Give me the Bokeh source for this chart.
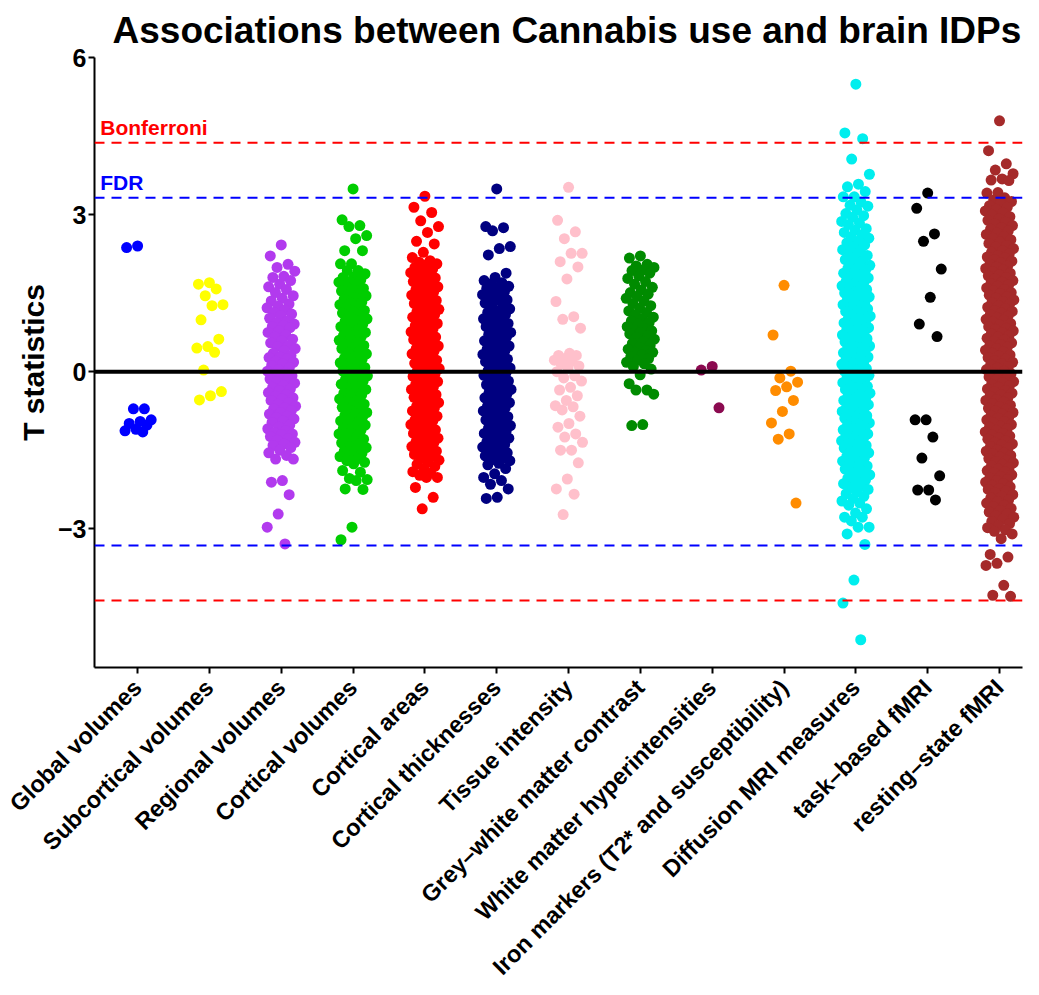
import numpy as np
from bokeh.plotting import figure
from bokeh.models import Span, Label, FixedTicker
from bokeh.embed import file_html
from bokeh.resources import INLINE

# ---------------- data ----------------
title_text = "Associations between Cannabis use and brain IDPs"

categories = ["Global volumes", "Subcortical volumes", "Regional volumes",
              "Cortical volumes", "Cortical areas", "Cortical thicknesses",
              "Tissue intensity", "Grey\u2013white matter contrast",
              "White matter hyperintensities",
              "Iron markers (T2* and susceptibility)", "Diffusion MRI measures",
              "task\u2013based fMRI", "resting\u2013state fMRI"]

colors = ["#0000FF", "#FFFF00", "#B23AEE", "#00CD00", "#FF0000", "#000080",
          "#FFC0CB", "#008B00", "#8B0A50", "#FF8C00", "#00EEEE", "#000000",
          "#A52A2A"]

y_ticks = [-3, 0, 3, 6]
y_tick_labels = ["\u22123", "0", "3", "6"]

fdr_threshold = 3.32
bonferroni_threshold = 4.37

global_volumes = [2.40, 2.37, -0.71, -0.71, -0.92, -0.95, -0.99, -1.02, -1.10, -1.13, -1.15]

subcortical_volumes = [1.70, 1.67, 1.58, 1.45, 1.28, 1.26, 0.99, 0.62, 0.48, 0.45,
                       0.37, 0.03, -0.38, -0.46, -0.54]

regional_volumes = [2.42, 2.21, 2.05, 1.99, 1.92, 1.82, 1.80, 1.74, 1.67, 1.62, 1.57,
                    1.51, 1.45, 1.40, 1.35, 1.29, 1.25, 1.22, 1.18, 1.13, 1.10, 1.07,
                    1.02, 0.97, 0.93, 0.91, 0.88, 0.86, 0.84, 0.78, 0.75, 0.70, 0.66,
                    0.62, 0.59, 0.55, 0.50, 0.48, 0.44, 0.40, 0.35, 0.31, 0.28, 0.27,
                    0.24, 0.20, 0.18, 0.15, 0.12, 0.08, 0.04, 0.01, -0.02, -0.04,
                    -0.08, -0.11, -0.14, -0.14, -0.19, -0.22, -0.26, -0.30, -0.33,
                    -0.36, -0.40, -0.44, -0.47, -0.50, -0.52, -0.55, -0.59, -0.62,
                    -0.66, -0.69, -0.71, -0.74, -0.78, -0.81, -0.85, -0.88, -0.90,
                    -0.94, -0.97, -1.02, -1.06, -1.09, -1.13, -1.16, -1.19, -1.20,
                    -1.24, -1.28, -1.31, -1.35, -1.38, -1.41, -1.45, -1.50, -1.55,
                    -1.60, -1.67, -1.67, -2.08, -2.11, -2.35, -2.72, -2.97, -3.29]

cortical_volumes = [3.49, 2.90, 2.79, 2.77, 2.60, 2.54, 2.31, 2.31, 2.06, 2.06, 1.93,
                    1.93, 1.87, 1.82, 1.80, 1.76, 1.72, 1.71, 1.66, 1.64, 1.59, 1.57,
                    1.54, 1.49, 1.47, 1.45, 1.40, 1.38, 1.33, 1.31, 1.28, 1.23, 1.22,
                    1.17, 1.14, 1.12, 1.06, 1.05, 1.01, 0.97, 0.96, 0.91, 0.88, 0.86,
                    0.80, 0.78, 0.75, 0.71, 0.69, 0.67, 0.61, 0.60, 0.55, 0.52, 0.50,
                    0.46, 0.44, 0.39, 0.36, 0.34, 0.29, 0.26, 0.24, 0.19, 0.17, 0.15,
                    0.10, 0.08, 0.03, 0.01, -0.02, -0.06, -0.08, -0.13, -0.15, -0.18,
                    -0.22, -0.24, -0.29, -0.31, -0.34, -0.39, -0.41, -0.45, -0.47,
                    -0.52, -0.55, -0.57, -0.62, -0.65, -0.68, -0.71, -0.73, -0.78,
                    -0.80, -0.84, -0.86, -0.89, -0.94, -0.96, -1.00, -1.02, -1.07,
                    -1.09, -1.12, -1.17, -1.19, -1.23, -1.25, -1.29, -1.34, -1.36,
                    -1.38, -1.43, -1.45, -1.50, -1.52, -1.56, -1.60, -1.62, -1.66,
                    -1.70, -1.73, -1.76, -1.89, -1.92, -2.04, -2.06, -2.08, -2.24,
                    -2.25, -2.97, -3.21]

cortical_areas = [3.35, 3.14, 3.04, 2.88, 2.77, 2.66, 2.49, 2.44, 2.28, 2.18, 2.12,
                  2.09, 2.06, 2.04, 1.99, 1.96, 1.94, 1.89, 1.87, 1.83, 1.79, 1.78,
                  1.72, 1.70, 1.68, 1.62, 1.61, 1.56, 1.52, 1.51, 1.46, 1.44, 1.41,
                  1.36, 1.34, 1.30, 1.26, 1.24, 1.19, 1.18, 1.14, 1.09, 1.08, 1.04,
                  0.99, 0.98, 0.92, 0.90, 0.88, 0.82, 0.81, 0.76, 0.72, 0.71, 0.66,
                  0.64, 0.61, 0.56, 0.54, 0.49, 0.46, 0.44, 0.39, 0.37, 0.34, 0.29,
                  0.27, 0.22, 0.21, 0.16, 0.12, 0.11, 0.06, 0.04, 0.01, -0.04, -0.05,
                  -0.09, -0.14, -0.15, -0.19, -0.23, -0.25, -0.29, -0.32, -0.34,
                  -0.38, -0.41, -0.44, -0.48, -0.49, -0.54, -0.58, -0.59, -0.64,
                  -0.66, -0.69, -0.74, -0.75, -0.80, -0.82, -0.85, -0.89, -0.92,
                  -0.94, -0.99, -1.01, -1.04, -1.08, -1.11, -1.14, -1.18, -1.19,
                  -1.24, -1.27, -1.29, -1.34, -1.36, -1.39, -1.43, -1.46, -1.49,
                  -1.52, -1.56, -1.58, -1.62, -1.66, -1.69, -1.73, -1.77, -1.81,
                  -1.85, -1.91, -1.94, -1.98, -2.02, -2.02, -2.21, -2.40, -2.62]

cortical_thicknesses = [3.49, 2.77, 2.75, 2.69, 2.39, 2.35, 2.23, 1.88, 1.80, 1.74,
                        1.70, 1.68, 1.63, 1.61, 1.59, 1.53, 1.51, 1.47, 1.44, 1.42,
                        1.37, 1.36, 1.31, 1.26, 1.24, 1.20, 1.16, 1.13, 1.09, 1.07,
                        1.01, 0.99, 0.97, 0.92, 0.88, 0.86, 0.82, 0.81, 0.75, 0.72,
                        0.71, 0.66, 0.64, 0.59, 0.56, 0.55, 0.49, 0.48, 0.43, 0.40,
                        0.38, 0.33, 0.31, 0.28, 0.24, 0.20, 0.19, 0.14, 0.12, 0.07,
                        0.05, 0.02, -0.03, -0.05, -0.07, -0.12, -0.14, -0.18, -0.21,
                        -0.25, -0.28, -0.30, -0.34, -0.38, -0.40, -0.43, -0.47, -0.50,
                        -0.53, -0.56, -0.59, -0.64, -0.66, -0.69, -0.73, -0.75, -0.81,
                        -0.82, -0.86, -0.90, -0.92, -0.97, -0.98, -1.03, -1.06, -1.08,
                        -1.13, -1.16, -1.18, -1.23, -1.25, -1.27, -1.32, -1.34, -1.39,
                        -1.42, -1.44, -1.49, -1.51, -1.55, -1.58, -1.61, -1.65, -1.68,
                        -1.70, -1.75, -1.78, -1.85, -1.95, -2.02, -2.08, -2.15, -2.24,
                        -2.40, -2.42]

tissue_intensity = [3.52, 2.89, 2.67, 2.54, 2.26, 2.26, 2.10, 2.00, 1.77, 1.34, 1.05,
                    1.00, 0.83, 0.35, 0.31, 0.31, 0.25, 0.22, 0.20, 0.15, 0.11, 0.07,
                    0.00, -0.08, -0.12, -0.18, -0.30, -0.35, -0.46, -0.55, -0.65,
                    -0.67, -0.73, -0.85, -0.99, -1.06, -1.19, -1.25, -1.35, -1.50,
                    -1.50, -1.74, -2.05, -2.24, -2.34, -2.73]

grey_white_contrast = [2.21, 2.17, 2.05, 2.02, 1.99, 1.94, 1.93, 1.88, 1.83, 1.78,
                       1.72, 1.67, 1.61, 1.56, 1.51, 1.48, 1.44, 1.40, 1.35, 1.30,
                       1.26, 1.21, 1.16, 1.13, 1.09, 1.04, 1.01, 0.97, 0.94, 0.91,
                       0.86, 0.82, 0.80, 0.78, 0.75, 0.72, 0.68, 0.65, 0.62, 0.58,
                       0.54, 0.50, 0.46, 0.43, 0.40, 0.37, 0.37, 0.32, 0.28, 0.25,
                       0.22, 0.18, 0.15, 0.10, 0.05, -0.06, -0.23, -0.35, -0.35,
                       -0.43, -1.01, -1.03]

wm_hyperintensities = [0.10, 0.03, -0.69]

iron_markers = [1.65, 0.70, 0.01, -0.12, -0.20, -0.29, -0.36, -0.55, -0.76, -0.98,
                -1.19, -1.29, -2.51]

diffusion_mri = [5.49, 4.56, 4.45, 4.06, 3.77, 3.58, 3.53, 3.44, 3.34, 3.34, 3.24,
                 3.18, 3.16, 3.09, 3.02, 2.98, 2.95, 2.87, 2.84, 2.81, 2.73, 2.70,
                 2.66, 2.61, 2.57, 2.55, 2.49, 2.46, 2.42, 2.38, 2.33, 2.31, 2.27,
                 2.22, 2.19, 2.14, 2.12, 2.08, 2.03, 2.01, 1.97, 1.94, 1.90, 1.88,
                 1.85, 1.81, 1.79, 1.76, 1.73, 1.71, 1.67, 1.64, 1.62, 1.59, 1.57,
                 1.53, 1.50, 1.48, 1.45, 1.43, 1.39, 1.36, 1.34, 1.31, 1.28, 1.26,
                 1.22, 1.20, 1.17, 1.15, 1.12, 1.08, 1.06, 1.03, 1.01, 0.98, 0.95,
                 0.93, 0.89, 0.87, 0.84, 0.82, 0.79, 0.76, 0.74, 0.70, 0.68, 0.65,
                 0.63, 0.60, 0.57, 0.55, 0.51, 0.49, 0.46, 0.44, 0.41, 0.38, 0.36,
                 0.33, 0.30, 0.28, 0.25, 0.23, 0.19, 0.17, 0.14, 0.12, 0.09, 0.06,
                 0.04, 0.01, -0.02, -0.04, -0.07, -0.10, -0.12, -0.15, -0.17, -0.21,
                 -0.23, -0.26, -0.28, -0.31, -0.34, -0.36, -0.39, -0.41, -0.45,
                 -0.47, -0.50, -0.52, -0.55, -0.58, -0.60, -0.63, -0.65, -0.69,
                 -0.71, -0.74, -0.76, -0.79, -0.82, -0.84, -0.87, -0.89, -0.93,
                 -0.95, -0.98, -1.00, -1.03, -1.06, -1.08, -1.11, -1.13, -1.17,
                 -1.19, -1.22, -1.24, -1.27, -1.30, -1.32, -1.35, -1.37, -1.41,
                 -1.43, -1.46, -1.48, -1.52, -1.55, -1.58, -1.62, -1.64, -1.68,
                 -1.71, -1.73, -1.77, -1.80, -1.84, -1.86, -1.90, -1.93, -1.97,
                 -2.00, -2.04, -2.07, -2.11, -2.14, -2.18, -2.22, -2.25, -2.30,
                 -2.33, -2.38, -2.42, -2.47, -2.51, -2.55, -2.62, -2.70, -2.78,
                 -2.78, -2.85, -2.97, -2.97, -3.10, -3.30, -3.98, -4.42, -5.12]

task_fmri = [3.41, 3.12, 2.63, 2.49, 1.96, 1.42, 0.91, 0.67, -0.92, -0.92, -1.25,
             -1.65, -1.99, -2.26, -2.26, -2.45]

resting_fmri = [4.79, 4.22, 3.97, 3.85, 3.78, 3.68, 3.66, 3.65, 3.42, 3.41, 3.32,
                3.28, 3.25, 3.21, 3.17, 3.14, 3.10, 3.07, 3.03, 2.99, 2.96, 2.92,
                2.89, 2.86, 2.82, 2.79, 2.75, 2.72, 2.69, 2.65, 2.62, 2.58, 2.55,
                2.52, 2.48, 2.45, 2.41, 2.38, 2.35, 2.31, 2.28, 2.25, 2.22, 2.19,
                2.17, 2.14, 2.11, 2.08, 2.05, 2.02, 2.00, 1.97, 1.94, 1.91, 1.88,
                1.85, 1.83, 1.80, 1.77, 1.74, 1.71, 1.68, 1.66, 1.63, 1.60, 1.57,
                1.54, 1.51, 1.49, 1.46, 1.43, 1.40, 1.37, 1.34, 1.32, 1.29, 1.26,
                1.23, 1.20, 1.17, 1.15, 1.12, 1.09, 1.06, 1.03, 1.00, 0.98, 0.95,
                0.92, 0.89, 0.86, 0.83, 0.81, 0.78, 0.75, 0.72, 0.69, 0.66, 0.64,
                0.61, 0.58, 0.55, 0.52, 0.49, 0.47, 0.44, 0.41, 0.38, 0.35, 0.32,
                0.30, 0.27, 0.24, 0.21, 0.18, 0.15, 0.13, 0.10, 0.07, 0.04, 0.01,
                -0.02, -0.04, -0.07, -0.10, -0.13, -0.16, -0.19, -0.21, -0.24,
                -0.27, -0.30, -0.33, -0.36, -0.38, -0.41, -0.44, -0.47, -0.50,
                -0.53, -0.55, -0.58, -0.61, -0.64, -0.67, -0.70, -0.72, -0.75,
                -0.78, -0.81, -0.84, -0.87, -0.89, -0.92, -0.95, -0.98, -1.01,
                -1.04, -1.06, -1.09, -1.12, -1.15, -1.18, -1.21, -1.23, -1.26,
                -1.29, -1.32, -1.35, -1.38, -1.40, -1.43, -1.46, -1.49, -1.52,
                -1.55, -1.57, -1.60, -1.63, -1.66, -1.69, -1.72, -1.74, -1.77,
                -1.80, -1.83, -1.86, -1.89, -1.91, -1.94, -1.97, -2.00, -2.03,
                -2.06, -2.08, -2.11, -2.14, -2.17, -2.20, -2.23, -2.25, -2.28,
                -2.31, -2.35, -2.38, -2.41, -2.45, -2.48, -2.51, -2.55, -2.58,
                -2.61, -2.65, -2.68, -2.72, -2.75, -2.78, -2.82, -2.86, -2.90,
                -2.94, -2.98, -3.02, -3.05, -3.10, -3.19, -3.49, -3.54, -3.66,
                -3.70, -4.08, -4.27, -4.29]

series = [global_volumes, subcortical_volumes, regional_volumes, cortical_volumes,
          cortical_areas, cortical_thicknesses, tissue_intensity, grey_white_contrast,
          wm_hyperintensities, iron_markers, diffusion_mri, task_fmri, resting_fmri]

# ---------------- figure ----------------
FONT = "Liberation Sans"
X_LO, X_HI = 0.4, 13.32
Y_LO, Y_HI = -5.65, 6.0

p = figure(width=1023, height=993, x_range=(X_LO, X_HI), y_range=(Y_LO, Y_HI),
           output_backend="svg", toolbar_location=None,
           min_border_left=94, min_border_right=1, min_border_top=57,
           min_border_bottom=326)

p.title.text = title_text
p.title.text_font = FONT
p.title.text_font_size = "37px"
p.title.text_font_style = "bold"
p.title.text_color = "black"
p.title.align = "left"
p.title.offset = 18
p.title.vertical_align = "top"
p.title.standoff = 9

p.xgrid.visible = False
p.ygrid.visible = False
p.outline_line_color = None
p.background_fill_color = "white"
p.border_fill_color = "white"

# points: deterministic jitter within each category strip
for i, (vals, col) in enumerate(zip(series, colors)):
    v = np.sort(np.asarray(vals, dtype=float))[::-1]
    n = len(v)
    off = ((np.arange(n) * 0.6180339887 + 0.5) % 1.0 - 0.5) * 0.4
    p.scatter(x=(i + 1) + off, y=v, size=11, fill_color=col, line_color=None)

# threshold lines
for loc in (fdr_threshold, -fdr_threshold):
    p.add_layout(Span(location=loc, dimension="width", line_color="#0000FF",
                      line_width=2, line_dash="10 7"))
for loc in (bonferroni_threshold, -bonferroni_threshold):
    p.add_layout(Span(location=loc, dimension="width", line_color="#FF0000",
                      line_width=2, line_dash="10 7"))
p.add_layout(Span(location=0, dimension="width", line_color="black", line_width=4))

p.add_layout(Label(x=0.48, y=bonferroni_threshold + 0.30, text="Bonferroni",
                   text_color="#FF0000", text_font=FONT, text_font_size="21px",
                   text_font_style="bold", text_baseline="alphabetic"))
p.add_layout(Label(x=0.48, y=fdr_threshold + 0.29, text="FDR",
                   text_color="#0000FF", text_font=FONT, text_font_size="21px",
                   text_font_style="bold", text_baseline="alphabetic"))

# axes
for ax in (p.xaxis[0], p.yaxis[0]):
    ax.axis_line_width = 2
    ax.axis_line_color = "black"
    ax.major_tick_line_width = 2
    ax.major_tick_line_color = "black"
    ax.major_tick_out = 6
    ax.major_tick_in = 0
    ax.minor_tick_line_color = None
    ax.major_label_text_font = FONT
    ax.major_label_text_font_style = "bold"
    ax.major_label_text_color = "black"

p.yaxis.ticker = FixedTicker(ticks=y_ticks)
p.yaxis.major_label_overrides = {t: s for t, s in zip(y_ticks, y_tick_labels)}
p.yaxis.major_label_text_font_size = "25px"
p.yaxis.major_label_standoff = 2
p.yaxis.axis_label = "T statistics"
p.yaxis.axis_label_text_font = FONT
p.yaxis.axis_label_text_font_size = "30px"
p.yaxis.axis_label_text_font_style = "bold"
p.yaxis.axis_label_text_color = "black"
p.yaxis.axis_label_standoff = 5

x_ticks = list(range(1, len(categories) + 1))
p.xaxis.ticker = FixedTicker(ticks=x_ticks)
p.xaxis.major_label_overrides = {t: c for t, c in zip(x_ticks, categories)}
p.xaxis.major_label_orientation = np.pi / 4
p.xaxis.major_label_text_font_size = "23.5px"
p.xaxis.major_label_standoff = 10

open("out.html", "w").write(file_html(p, INLINE))
